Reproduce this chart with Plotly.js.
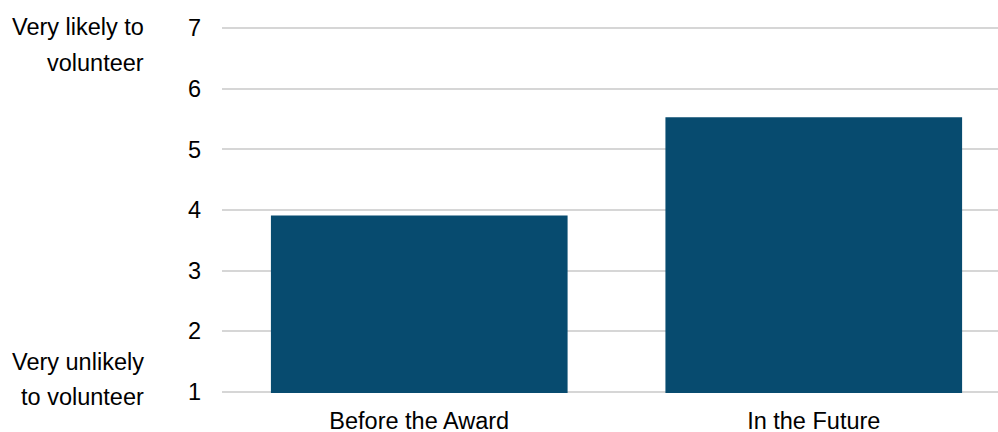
<!DOCTYPE html>
<html>
<head>
<meta charset="utf-8">
<script src="https://cdn.plot.ly/plotly-3.0.1.min.js"></script>
<style>
  html, body { margin: 0; padding: 0; background: #fff; }
  #chart { width: 998px; height: 432px; }
</style>
</head>
<body>
<div id="chart"></div>
<script>
// Mean likelihood of volunteering (1 = very unlikely, 7 = very likely)
const categories = ["Before the Award", "In the Future"];
const meanScores = [3.91, 5.53];
const yTicks = [1, 2, 3, 4, 5, 6, 7];

const font = { family: "Liberation Sans, Arial, sans-serif", size: 23.5, color: "#000" };

const trace = {
  type: "bar",
  x: categories,
  y: meanScores,
  width: 0.752,
  marker: { color: "#074b6f", line: { width: 0 } },
  hoverinfo: "x+y"
};

// scale end labels, one line per annotation for the wider line spacing
const scaleLabels = [
  { text: "Very likely to", y: 1.0003 },
  { text: "volunteer", y: 0.9019 },
  { text: "Very unlikely", y: 0.0847 },
  { text: "to volunteer", y: -0.0109 }
];

const layout = {
  width: 998,
  height: 432,
  margin: { l: 222, r: 0, t: 26.8, b: 39.3, pad: 0 },
  paper_bgcolor: "#fff",
  plot_bgcolor: "#fff",
  font: font,
  showlegend: false,
  xaxis: {
    type: "category",
    range: [-0.5, 1.467],
    showgrid: false,
    zeroline: false,
    showline: false,
    ticks: "",
    ticklabelstandoff: 11,
    tickfont: font,
    fixedrange: true
  },
  yaxis: {
    // padded slightly so the gridlines at 1 and 7 are kept
    range: [0.98, 7.02],
    tickvals: yTicks,
    ticktext: yTicks.map(String),
    showgrid: true,
    gridcolor: "#d6d6d6",
    gridwidth: 2,
    zeroline: false,
    showline: false,
    ticks: "",
    ticklabelstandoff: 20,
    tickfont: font,
    fixedrange: true
  },
  annotations: scaleLabels.map(a => ({
    text: a.text,
    xref: "paper",
    yref: "paper",
    x: -0.098,
    y: a.y,
    xanchor: "right",
    yanchor: "middle",
    showarrow: false,
    font: font
  }))
};

Plotly.newPlot("chart", [trace], layout, { displayModeBar: false, staticPlot: true });
</script>
</body>
</html>
